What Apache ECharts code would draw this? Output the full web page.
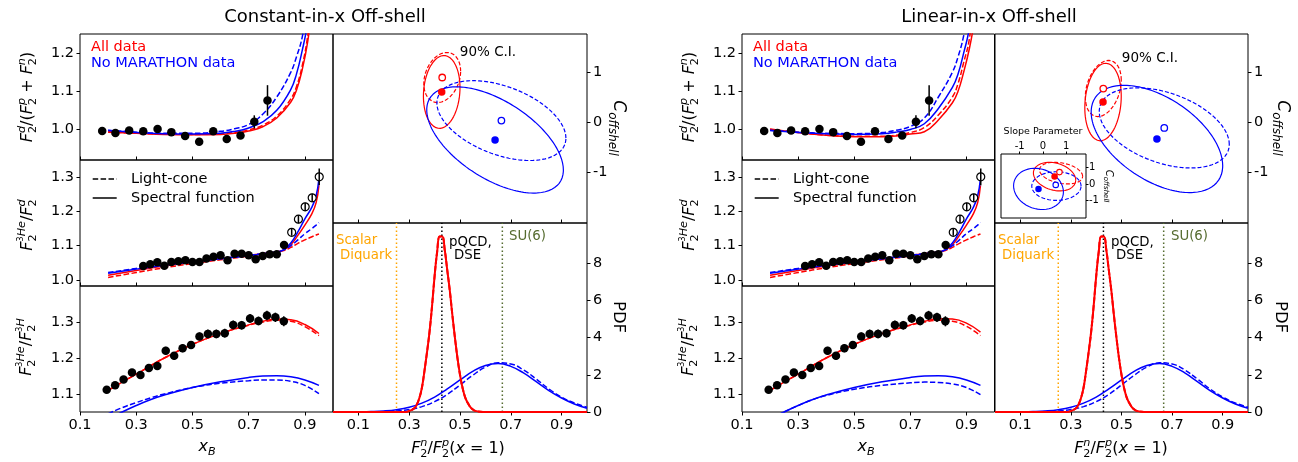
<!DOCTYPE html>
<html><head><meta charset="utf-8">
<script src="https://cdn.jsdelivr.net/npm/echarts@6/dist/echarts.min.js"></script>
<style>html,body{margin:0;padding:0;background:#fff}#c{width:1298px;height:462px}</style>
</head><body><div id="c"></div>
<script>
// ================= DATA =================
// Top panel: F2d/(F2p+F2n) data
const dRatioX   = [0.179, 0.226, 0.275, 0.325, 0.376, 0.425, 0.474, 0.524, 0.574, 0.622, 0.671, 0.720, 0.767];
const dRatioY   = [0.996, 0.991, 0.997, 0.995, 1.001, 0.993, 0.983, 0.968, 0.995, 0.975, 0.984, 1.020, 1.076];
const dRatioErr = [0.004, 0.004, 0.004, 0.004, 0.004, 0.004, 0.005, 0.005, 0.006, 0.007, 0.008, 0.017, 0.040];

// Middle panel: F2He3/F2d data (filled) and open points
const he3dX   = [0.325, 0.350, 0.375, 0.400, 0.425, 0.450, 0.475, 0.500, 0.525, 0.550, 0.575, 0.600, 0.625, 0.650, 0.675, 0.700, 0.725, 0.750, 0.775, 0.800, 0.826];
const he3dY   = [1.041, 1.046, 1.052, 1.042, 1.053, 1.055, 1.058, 1.053, 1.053, 1.063, 1.068, 1.072, 1.058, 1.077, 1.077, 1.072, 1.061, 1.070, 1.075, 1.075, 1.102];
const he3dErr = [0.004, 0.004, 0.004, 0.004, 0.004, 0.004, 0.004, 0.004, 0.004, 0.004, 0.004, 0.004, 0.004, 0.004, 0.004, 0.004, 0.004, 0.004, 0.004, 0.004, 0.005];
const he3dOpenX   = [0.853, 0.877, 0.901, 0.926, 0.951];
const he3dOpenY   = [1.139, 1.177, 1.213, 1.239, 1.300];
const he3dOpenErr = [0.010, 0.012, 0.012, 0.012, 0.024];

// Bottom panel: F2He3/F2H3 data
const he3hX   = [0.195, 0.225, 0.255, 0.285, 0.315, 0.345, 0.375, 0.405, 0.435, 0.465, 0.495, 0.525, 0.555, 0.585, 0.615, 0.645, 0.675, 0.705, 0.735, 0.765, 0.795, 0.825];
const he3hY   = [1.112, 1.124, 1.140, 1.160, 1.153, 1.172, 1.178, 1.220, 1.206, 1.227, 1.236, 1.260, 1.267, 1.267, 1.269, 1.292, 1.291, 1.310, 1.303, 1.318, 1.313, 1.302];
const he3hErr = [0.008, 0.008, 0.008, 0.009, 0.009, 0.009, 0.010, 0.011, 0.011, 0.011, 0.011, 0.011, 0.012, 0.012, 0.012, 0.012, 0.012, 0.012, 0.012, 0.013, 0.013, 0.014];

// Top panel model curves
const topCurveX          = [0.2, 0.3, 0.4, 0.5, 0.6, 0.65, 0.7, 0.75, 0.8, 0.85, 0.87, 0.89, 0.91, 0.93];
const topConstBlueDash   = [0.998, 0.993, 0.990, 0.990, 0.995, 1.002, 1.013, 1.040, 1.085, 1.150, 1.190, 1.240, 1.330, 1.450];
const topConstBlueSolid  = [0.997, 0.992, 0.989, 0.988, 0.990, 0.995, 1.004, 1.020, 1.050, 1.105, 1.145, 1.205, 1.280, 1.400];
const topConstRedDash    = [0.994, 0.990, 0.988, 0.987, 0.989, 0.992, 0.999, 1.011, 1.035, 1.080, 1.112, 1.165, 1.245, 1.370];
const topConstRedSolid   = [0.993, 0.990, 0.987, 0.986, 0.987, 0.990, 0.996, 1.007, 1.030, 1.072, 1.103, 1.155, 1.230, 1.350];
const topLinBlueDash     = [0.998, 0.993, 0.990, 0.989, 0.992, 0.998, 1.008, 1.030, 1.085, 1.150, 1.190, 1.245, 1.330, 1.450];
const topLinBlueSolid    = [0.997, 0.992, 0.989, 0.987, 0.989, 0.993, 1.000, 1.015, 1.055, 1.110, 1.145, 1.200, 1.265, 1.400];
const topLinRedDash      = [1.000, 0.992, 0.985, 0.982, 0.982, 0.985, 0.992, 1.005, 1.038, 1.085, 1.120, 1.175, 1.235, 1.360];
const topLinRedSolid     = [1.001, 0.992, 0.985, 0.981, 0.981, 0.983, 0.988, 0.994, 1.025, 1.070, 1.100, 1.150, 1.210, 1.290];

// Middle panel model curves (same in both halves)
const midCurveX    = [0.2, 0.3, 0.4, 0.5, 0.6, 0.7, 0.75, 0.8, 0.825, 0.85, 0.875, 0.9, 0.925, 0.94, 0.95];
const midBlueSolid = [1.020, 1.032, 1.043, 1.053, 1.062, 1.071, 1.076, 1.082, 1.089, 1.108, 1.140, 1.178, 1.212, 1.245, 1.295];
const midRedSolid  = [1.014, 1.028, 1.041, 1.052, 1.062, 1.072, 1.077, 1.082, 1.088, 1.103, 1.130, 1.160, 1.193, 1.225, 1.275];
const midBlueDash  = [1.022, 1.034, 1.045, 1.054, 1.063, 1.072, 1.077, 1.082, 1.088, 1.100, 1.117, 1.135, 1.150, 1.160, 1.167];
const midRedDash   = [1.008, 1.022, 1.036, 1.048, 1.059, 1.070, 1.076, 1.082, 1.086, 1.095, 1.107, 1.117, 1.126, 1.131, 1.134];

// Bottom panel model curves
const botCurveX          = [0.2, 0.25, 0.3, 0.35, 0.4, 0.5, 0.6, 0.7, 0.75, 0.8, 0.85, 0.9, 0.95];
const botConstRedSolid   = [1.110, 1.133, 1.155, 1.178, 1.200, 1.238, 1.268, 1.292, 1.302, 1.308, 1.306, 1.293, 1.268];
const botConstRedDash    = [1.110, 1.133, 1.155, 1.178, 1.200, 1.238, 1.268, 1.291, 1.300, 1.305, 1.302, 1.287, 1.262];
const botConstBlueSolid  = [1.030, 1.050, 1.068, 1.084, 1.097, 1.118, 1.134, 1.146, 1.150, 1.151, 1.148, 1.139, 1.124];
const botConstBlueDash   = [1.045, 1.062, 1.076, 1.089, 1.100, 1.118, 1.130, 1.137, 1.139, 1.139, 1.135, 1.124, 1.101];
const botLinRedSolid     = [1.110, 1.133, 1.155, 1.178, 1.200, 1.238, 1.268, 1.292, 1.302, 1.309, 1.308, 1.297, 1.272];
const botLinRedDash      = [1.110, 1.133, 1.155, 1.178, 1.200, 1.238, 1.268, 1.291, 1.300, 1.305, 1.302, 1.288, 1.262];
const botLinBlueSolid    = [1.030, 1.050, 1.068, 1.084, 1.097, 1.118, 1.134, 1.146, 1.150, 1.151, 1.148, 1.139, 1.124];
const botLinBlueDash     = [1.030, 1.050, 1.068, 1.084, 1.096, 1.113, 1.124, 1.131, 1.133, 1.132, 1.128, 1.118, 1.098];

// 90% C.I. ellipses: order [red solid, red dashed, blue solid, blue dashed]
// centre (x = F2n/F2p(x=1), y = C_offshell), half-extents, correlation
const ellConstCX  = [0.428, 0.430, 0.638, 0.663];
const ellConstCY  = [0.600, 0.887, -0.352, 0.032];
const ellConstHX  = [0.072, 0.0725, 0.269, 0.254];
const ellConstHY  = [0.722, 0.497, 1.054, 0.792];
const ellConstRho = [0.12, 0.25, -0.566, -0.44];
const ellLinCX  = [0.427, 0.428, 0.640, 0.669];
const ellLinCY  = [0.400, 0.668, -0.332, -0.113];
const ellLinHX  = [0.072, 0.071, 0.260, 0.257];
const ellLinHY  = [0.769, 0.557, 1.064, 0.795];
const ellLinRho = [0.15, 0.30, -0.50, -0.41];
// inset (slope parameter vs C_offshell): ellipses and best-fit points
const insCX  = [0.50, 0.78, -0.19, 0.58];
const insCY  = [0.44, 0.65, -0.30, -0.13];
const insHX  = [0.91, 0.93, 1.07, 1.06];
const insHY  = [0.86, 0.65, 1.24, 0.86];
const insRho = [-0.25, -0.30, -0.15, 0.0];
const insOpenX = [0.71, 0.55];
const insOpenY = [0.71, -0.06];

// PDF of F2n/F2p(x=1)
const pdfRedX = [0, 0.28, 0.30, 0.32, 0.33, 0.34, 0.35, 0.36, 0.37, 0.38, 0.39, 0.40, 0.41, 0.42, 0.43, 0.44, 0.45, 0.46, 0.47, 0.48, 0.49, 0.50, 0.51, 0.52, 0.53, 0.54, 0.55, 0.56, 0.58, 0.60, 1.0];
const pdfRedY = [0, 0, 0.05, 0.2, 0.4, 0.75, 1.3, 2.2, 3.2, 4.3, 5.7, 7.3, 8.6, 9.42, 9.42, 8.7, 7.6, 6.5, 5.2, 4.0, 2.9, 2.0, 1.3, 0.8, 0.5, 0.28, 0.14, 0.06, 0.01, 0, 0];
const pdfBlueX     = [0, 0.05, 0.10, 0.15, 0.20, 0.25, 0.30, 0.35, 0.40, 0.45, 0.50, 0.55, 0.60, 0.65, 0.70, 0.75, 0.80, 0.85, 0.90, 0.95, 1.00];
const pdfBlueSolid = [0, 0.002, 0.008, 0.022, 0.054, 0.123, 0.254, 0.475, 0.80, 1.24, 1.72, 2.18, 2.50, 2.60, 2.45, 2.10, 1.63, 1.15, 0.75, 0.43, 0.20];
const pdfBlueDash  = [0, 0.001, 0.002, 0.007, 0.022, 0.058, 0.137, 0.29, 0.557, 0.95, 1.45, 1.97, 2.41, 2.64, 2.58, 2.26, 1.77, 1.24, 0.80, 0.48, 0.26];
const refLineX = [0.25, 0.4286, 0.6667];
const refLineNames = ['Scalar Diquark', 'pQCD, DSE', 'SU(6)'];

// tick values
const xTicksLeft = [0.1, 0.3, 0.5, 0.7, 0.9];
const xTicksRight = [0.1, 0.3, 0.5, 0.7, 0.9];
const yTicksTop = [1.0, 1.1, 1.2];
const yTicksMid = [1.0, 1.1, 1.2, 1.3];
const yTicksBot = [1.1, 1.2, 1.3];
const yTicksEll = [-1, 0, 1];
const yTicksPdf = [0, 2, 4, 6, 8];
const insetTicks = [-1, 0, 1];

// ================= BUILD =================
const FONT = 'DejaVu Sans';
const RED = '#ff0000', BLUE = '#0000ff';
const DASH = [5.5, 2.4];
const EDASH = [4, 2];
const grids = [], xAxes = [], yAxes = [], series = [], graphics = [];

function addGrid(left, top, width, height, bg) {
  grids.push({left, top, width, height, show: true, borderColor: '#000', borderWidth: 1,
    backgroundColor: bg || 'transparent', containLabel: false, outerBoundsMode: 'none'});
  return grids.length - 1;
}
function mkAxis(gi, min, max, ticks, o) {
  return {
    type: 'value', gridIndex: gi, min, max, position: o.position,
    axisLine: {show: false, onZero: false}, splitLine: {show: false},
    axisTick: {show: true, inside: !!o.inside, length: o.tickLen || 3.5, lineStyle: {color: '#000', width: 1}, customValues: ticks},
    axisLabel: {show: !!o.labels, customValues: ticks, formatter: o.fmt || (v => String(v)), color: '#000',
      fontFamily: FONT, fontSize: o.fs || 14.5, margin: o.margin || 6}
  };
}
function addAxes(gi, xa, ya) { xAxes.push(xa); yAxes.push(ya); return [xAxes.length - 1, yAxes.length - 1]; }
function lineS(ax, xs, ys, color, dashed, width, z, smooth) {
  series.push({type: 'line', xAxisIndex: ax[0], yAxisIndex: ax[1], data: xs.map((x, i) => [x, ys[i]]),
    showSymbol: false, symbol: 'none', smooth: smooth === undefined ? 0.45 : smooth,
    lineStyle: {color, width: width || 1.5, type: dashed ? (Array.isArray(dashed) ? dashed : DASH) : 'solid'},
    z: z || 2, silent: true, animation: false, clip: true});
}
function ptsS(ax, xs, ys, o) {
  series.push({type: 'scatter', xAxisIndex: ax[0], yAxisIndex: ax[1], data: xs.map((x, i) => [x, ys[i]]),
    symbol: 'circle', symbolSize: o.size || 8.5,
    itemStyle: {color: o.fill, borderColor: o.border || o.fill, borderWidth: o.bw || 0, opacity: 1},
    z: o.z || 4, silent: true, animation: false});
}
function errS(ax, xs, ys, es, z) {
  series.push({type: 'custom', xAxisIndex: ax[0], yAxisIndex: ax[1], data: xs.map((x, i) => [x, ys[i], es[i]]),
    encode: {x: 0, y: 1}, z: z || 3, silent: true, animation: false,
    renderItem: (params, api) => {
      const x = api.value(0), y = api.value(1), e = api.value(2);
      const a = api.coord([x, y - e]), b = api.coord([x, y + e]);
      return {type: 'line', shape: {x1: a[0], y1: a[1], x2: b[0], y2: b[1]}, style: {stroke: '#000', lineWidth: 1.5}};
    }});
}
function ellipse(ax, cx, cy, hx, hy, rho, color, dashed, width) {
  const s = Math.sqrt(1 - rho * rho), xs = [], ys = [];
  for (let i = 0; i <= 160; i++) {
    const t = 2 * Math.PI * i / 160;
    xs.push(cx + hx * Math.cos(t));
    ys.push(cy + hy * (rho * Math.cos(t) + s * Math.sin(t)));
  }
  lineS(ax, xs, ys, color, dashed ? EDASH : false, width || 1.2, 3, false);
}
function txt(x, y, text, o) {
  graphics.push({type: 'text', x, y, rotation: o.rot || 0, z: 100, silent: true,
    style: {text, fill: o.color || '#000', fontSize: o.fs || 14.5, fontFamily: FONT, fontStyle: o.italic ? 'italic' : 'normal',
      align: o.align || 'left', verticalAlign: 'middle', rich: o.rich}});
}
function gline(x1, y1, x2, y2, dash) {
  graphics.push({type: 'line', z: 100, silent: true, shape: {x1, y1, x2, y2},
    style: {stroke: '#000', lineWidth: 1.5, lineDash: dash || null}});
}

// rich styles for math labels (sbz = subscript stacked under following superscript)
function R(fs) {
  const sub = Math.round(fs * 0.7 * 10) / 10;
  const lh = Math.round(fs * 1.38);
  const base = {fontFamily: FONT, fill: '#000', align: 'left'};
  return {
    i: Object.assign({}, base, {fontSize: fs, fontStyle: 'italic', lineHeight: lh}),
    r: Object.assign({}, base, {fontSize: fs, lineHeight: lh}),
    sb: Object.assign({}, base, {fontSize: sub, lineHeight: sub, verticalAlign: 'bottom'}),
    sbz: Object.assign({}, base, {fontSize: sub, lineHeight: sub, verticalAlign: 'bottom', width: 0.01}),
    sbi: Object.assign({}, base, {fontSize: sub, fontStyle: 'italic', lineHeight: sub, verticalAlign: 'bottom'}),
    sp: Object.assign({}, base, {fontSize: sub, fontStyle: 'italic', lineHeight: sub + 1, verticalAlign: 'top'}),
    sp3: Object.assign({}, base, {fontSize: Math.round(fs * 0.5), lineHeight: Math.round(fs * 0.5), verticalAlign: 'top'})
  };
}
const RICH16 = R(16);

const fmt1 = v => v.toFixed(1);

const halves = [
  {ox: 0, lc: [80, 253], rc: [333, 254], title: 'Constant-in-x Off-shell', titleX: 325,
   top: [topConstBlueDash, topConstBlueSolid, topConstRedDash, topConstRedSolid],
   bot: [botConstRedSolid, botConstRedDash, botConstBlueSolid, botConstBlueDash],
   ell: [ellConstCX, ellConstCY, ellConstHX, ellConstHY, ellConstRho], ciX: 488, ciY: 52, cLabX: 618, pdfLabX: 618, xbX: 207, fX: 458},
  {ox: 662, lc: [742, 252.5], rc: [995, 253], title: 'Linear-in-x Off-shell', titleX: 989,
   top: [topLinBlueDash, topLinBlueSolid, topLinRedDash, topLinRedSolid],
   bot: [botLinRedSolid, botLinRedDash, botLinBlueSolid, botLinBlueDash],
   ell: [ellLinCX, ellLinCY, ellLinHX, ellLinHY, ellLinRho], ciX: 1150, ciY: 58, cLabX: 1282, pdfLabX: 1280, xbX: 866, fX: 1121}
];

const ROWS = [[34, 126], [160, 126], [286, 126]];
const RCOL = [[34, 189], [223, 189]];

halves.forEach((H, hi) => {
  const ox = H.ox;
  // ---- left column ----
  const g0 = addGrid(H.lc[0], ROWS[0][0], H.lc[1], ROWS[0][1]);
  const a0 = addAxes(g0,
    mkAxis(g0, 0.1, 1.0, xTicksLeft, {position: 'bottom', inside: true}),
    mkAxis(g0, 0.92, 1.25, yTicksTop, {position: 'left', labels: true, fmt: fmt1}));
  const g1 = addGrid(H.lc[0], ROWS[1][0], H.lc[1], ROWS[1][1]);
  const a1 = addAxes(g1,
    mkAxis(g1, 0.1, 1.0, xTicksLeft, {position: 'bottom', inside: true}),
    mkAxis(g1, 0.983, 1.349, yTicksMid, {position: 'left', labels: true, fmt: fmt1}));
  const g2 = addGrid(H.lc[0], ROWS[2][0], H.lc[1], ROWS[2][1]);
  const a2 = addAxes(g2,
    mkAxis(g2, 0.1, 1.0, xTicksLeft, {position: 'bottom', labels: true, fmt: fmt1, margin: 6}),
    mkAxis(g2, 1.05, 1.40, yTicksBot, {position: 'left', labels: true, fmt: fmt1}));
  // ---- right column ----
  const g3 = addGrid(H.rc[0], RCOL[0][0], H.rc[1], RCOL[0][1]);
  const a3 = addAxes(g3,
    mkAxis(g3, 0, 1, xTicksRight, {position: 'bottom', inside: true}),
    mkAxis(g3, -2.0, 1.75, yTicksEll, {position: 'right', labels: true}));
  const g4 = addGrid(H.rc[0], RCOL[1][0], H.rc[1], RCOL[1][1]);
  const a4 = addAxes(g4,
    mkAxis(g4, 0, 1, xTicksRight, {position: 'bottom', labels: true, fmt: fmt1, margin: 6}),
    mkAxis(g4, 0, 10.15, yTicksPdf, {position: 'right', labels: true}));

  // top panel curves + data
  lineS(a0, topCurveX, H.top[3], RED, false);
  lineS(a0, topCurveX, H.top[2], RED, true);
  lineS(a0, topCurveX, H.top[1], BLUE, false);
  lineS(a0, topCurveX, H.top[0], BLUE, true);
  errS(a0, dRatioX, dRatioY, dRatioErr, 3);
  ptsS(a0, dRatioX, dRatioY, {fill: '#000'});

  // middle panel
  lineS(a1, midCurveX, midRedSolid, RED, false);
  lineS(a1, midCurveX, midRedDash, RED, true);
  lineS(a1, midCurveX, midBlueSolid, BLUE, false);
  lineS(a1, midCurveX, midBlueDash, BLUE, true);
  errS(a1, he3dX, he3dY, he3dErr, 3);
  ptsS(a1, he3dX, he3dY, {fill: '#000'});
  ptsS(a1, he3dOpenX, he3dOpenY, {fill: '#fff', border: '#000', bw: 1.2, size: 8, z: 5});
  errS(a1, he3dOpenX, he3dOpenY, he3dOpenErr, 6);

  // bottom panel
  lineS(a2, botCurveX, H.bot[0], RED, false);
  lineS(a2, botCurveX, H.bot[1], RED, true);
  lineS(a2, botCurveX, H.bot[2], BLUE, false);
  lineS(a2, botCurveX, H.bot[3], BLUE, true);
  errS(a2, he3hX, he3hY, he3hErr, 3);
  ptsS(a2, he3hX, he3hY, {fill: '#000'});

  // ellipse panel
  const E = H.ell;
  const ecol = [RED, RED, BLUE, BLUE];
  for (let k = 0; k < 4; k++) ellipse(a3, E[0][k], E[1][k], E[2][k], E[3][k], E[4][k], ecol[k], k % 2 === 1, 1.2);
  ptsS(a3, [E[0][0]], [E[1][0]], {fill: RED, size: 7.5, z: 5});
  ptsS(a3, [E[0][1]], [E[1][1]], {fill: '#fff', border: RED, bw: 1.3, size: 6.5, z: 5});
  ptsS(a3, [E[0][2]], [E[1][2]], {fill: BLUE, size: 7.5, z: 5});
  ptsS(a3, [E[0][3]], [E[1][3]], {fill: '#fff', border: BLUE, bw: 1.3, size: 6.5, z: 5});

  // PDF panel
  const refCol = ['#ffa500', '#000000', '#556b2f'];
  refLineX.forEach((rx, k) => lineS(a4, [rx, rx], [0, 10.15], refCol[k], [1.5, 2.5], 1.5, 1, false));
  lineS(a4, pdfBlueX, pdfBlueSolid, BLUE, false, 1.5, 2);
  lineS(a4, pdfBlueX, pdfBlueDash, BLUE, true, 1.5, 2);
  lineS(a4, pdfRedX, pdfRedY, RED, true, 2, 3);
  lineS(a4, pdfRedX, pdfRedY, RED, false, 2, 3);

  // ---- texts ----
  txt(H.titleX, 17, H.title, {fs: 18, align: 'center'});
  txt(91 + ox, 47, 'All data', {color: RED});
  txt(91 + ox, 63, 'No MARATHON data', {color: BLUE});
  gline(92.7 + ox, 179, 116.7 + ox, 179, DASH);
  txt(131 + ox, 179, 'Light-cone', {});
  gline(92.7 + ox, 198, 116.7 + ox, 198, null);
  txt(131 + ox, 198, 'Spectral function', {});
  txt(28 + ox, 97, '{i|F}{sbz|2}{sp|d}{r|/(}{i|F}{sbz|2}{sp|p}{r| + }{i|F}{sbz|2}{sp|n}{r|)}', {rot: Math.PI / 2, align: 'center', rich: RICH16});
  txt(28 + ox, 225, '{i|F}{sbz|2}{sp3|3}{sp|He}{r|/}{i|F}{sbz|2}{sp|d}', {rot: Math.PI / 2, align: 'center', rich: RICH16});
  txt(27 + ox, 347, '{i|F}{sbz|2}{sp3|3}{sp|He}{r|/}{i|F}{sbz|2}{sp3|3}{sp|H}', {rot: Math.PI / 2, align: 'center', rich: RICH16});
  txt(H.xbX, 447, '{i|x}{sbi|B}', {align: 'center', rich: RICH16});
  txt(H.fX, 449, '{i|F}{sbz|2}{sp|n}{r|/}{i|F}{sbz|2}{sp|p}{r|(}{i|x}{r| = 1)}', {align: 'center', rich: RICH16});
  txt(H.pdfLabX, 317, 'PDF', {fs: 16.5, rot: -Math.PI / 2, align: 'center'});
  txt(H.cLabX, 128, '{i|C}{sbi|offshell}', {rot: -Math.PI / 2, align: 'center', rich: R(17)});
  txt(H.ciX, H.ciY, '90% C.I.', {fs: 13.5, align: 'center'});
  txt(336 + ox, 241, 'Scalar', {fs: 13.3, color: '#ffa500'});
  txt(340 + ox, 256, 'Diquark', {fs: 13.3, color: '#ffa500'});
  txt(449 + ox, 242.5, 'pQCD,', {fs: 13.3});
  txt(454 + ox, 256, 'DSE', {fs: 13.3});
  txt(509 + ox, 237, 'SU(6)', {fs: 13.3, color: '#556b2f'});
});

// ---- inset (Linear-in-x half) ----
const gi = addGrid(1001, 154, 85, 64, '#fff');
const ai = addAxes(gi,
  mkAxis(gi, -1.8, 1.85, insetTicks, {position: 'top', labels: true, fs: 10, margin: 3, tickLen: 2.5}),
  mkAxis(gi, -2.05, 1.8, insetTicks, {position: 'right', labels: true, fs: 10, margin: 3, tickLen: 2.5}));
const icol = [RED, RED, BLUE, BLUE];
for (let k = 0; k < 4; k++) ellipse(ai, insCX[k], insCY[k], insHX[k], insHY[k], insRho[k], icol[k], k % 2 === 1, 1.1);
ptsS(ai, [insCX[0]], [insCY[0]], {fill: RED, size: 6.5, z: 5});
ptsS(ai, [insOpenX[0]], [insOpenY[0]], {fill: '#fff', border: RED, bw: 1.1, size: 5.5, z: 5});
ptsS(ai, [insCX[2]], [insCY[2]], {fill: BLUE, size: 6.5, z: 5});
ptsS(ai, [insOpenX[1]], [insOpenY[1]], {fill: '#fff', border: BLUE, bw: 1.1, size: 5.5, z: 5});
txt(1043, 132, 'Slope Parameter', {fs: 9.5, align: 'center'});
txt(1109, 186, '{i|C}{sbi|offshell}', {rot: -Math.PI / 2, align: 'center', rich: R(10)});

const chart = echarts.init(document.getElementById('c'), null, {renderer: 'canvas'});
chart.setOption({
  animation: false,
  backgroundColor: '#fff',
  grid: grids, xAxis: xAxes, yAxis: yAxes, series, graphic: graphics
});
</script></body></html>
